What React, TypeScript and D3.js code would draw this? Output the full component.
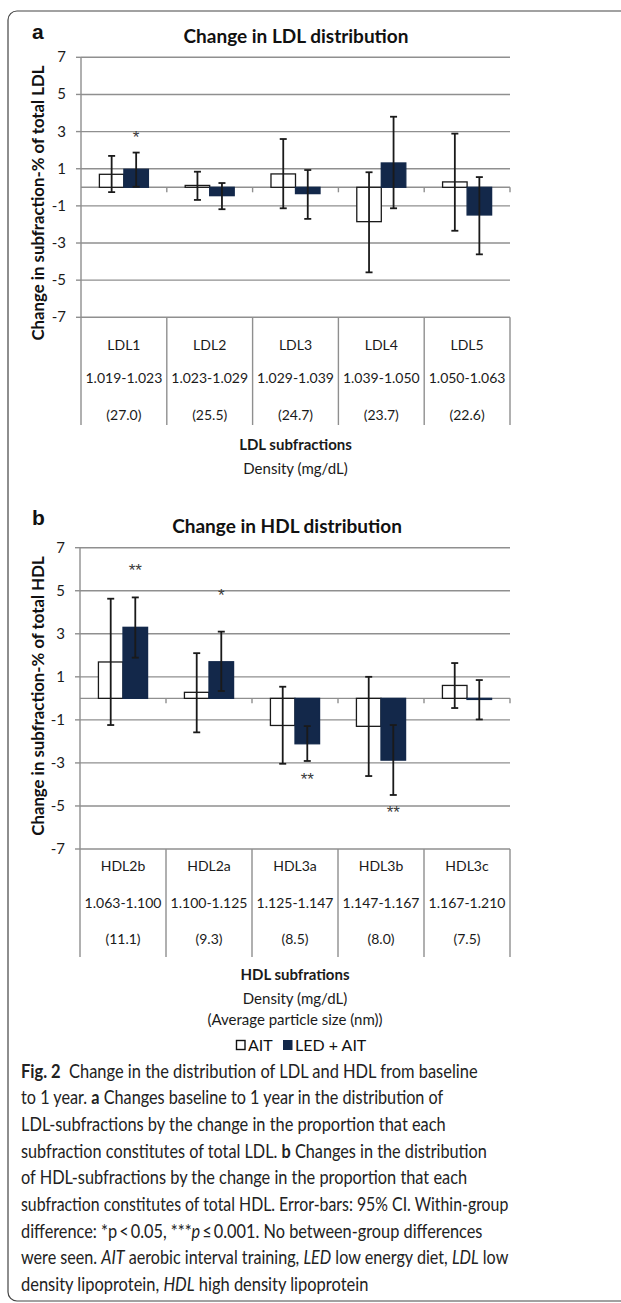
import React, { useEffect, useRef } from 'react';
import * as d3 from 'd3';

// ---- data ----
const groups = ['AIT', 'LED + AIT'];
const yTicks = [7, 5, 3, 1, -1, -3, -5, -7];

const ldlCategories = ['LDL1', 'LDL2', 'LDL3', 'LDL4', 'LDL5'];
const ldlDensity = ['1.019-1.023', '1.023-1.029', '1.029-1.039', '1.039-1.050', '1.050-1.063'];
const ldlSize = ['(27.0)', '(25.5)', '(24.7)', '(23.7)', '(22.6)'];
const ldlAit = [0.7, 0.1, 0.72, -1.85, 0.29];
const ldlAitLow = [-0.26, -0.68, -1.13, -4.58, -2.34];
const ldlAitHigh = [1.69, 0.84, 2.6, 0.81, 2.89];
const ldlLed = [0.97, -0.45, -0.34, 1.31, -1.49];
const ldlLedLow = [0.03, -1.18, -1.7, -1.13, -3.61];
const ldlLedHigh = [1.87, 0.23, 0.93, 3.8, 0.55];
const ldlStars = [{ cat: 'LDL1', group: 'LED + AIT', text: '*', at: 2.82 }];

const hdlCategories = ['HDL2b', 'HDL2a', 'HDL3a', 'HDL3b', 'HDL3c'];
const hdlDensity = ['1.063-1.100', '1.100-1.125', '1.125-1.147', '1.147-1.167', '1.167-1.210'];
const hdlSize = ['(11.1)', '(9.3)', '(8.5)', '(8.0)', '(7.5)'];
const hdlAit = [1.69, 0.28, -1.26, -1.3, 0.6];
const hdlAitLow = [-1.24, -1.58, -3.04, -3.61, -0.45];
const hdlAitHigh = [4.63, 2.1, 0.54, 1.0, 1.64];
const hdlLed = [3.3, 1.7, -2.11, -2.87, -0.05];
const hdlLedLow = [1.89, 0.34, -2.91, -4.49, -0.98];
const hdlLedHigh = [4.69, 3.1, -1.29, -1.24, 0.85];
const hdlStars = [
  { cat: 'HDL2b', group: 'LED + AIT', text: '**', at: 6.1 },
  { cat: 'HDL2a', group: 'LED + AIT', text: '*', at: 4.9 },
  { cat: 'HDL3a', group: 'LED + AIT', text: '**', at: -3.64 },
  { cat: 'HDL3b', group: 'LED + AIT', text: '**', at: -5.16 },
];

const captionLines = [
  [['b', 'Fig. 2'], ['n', '  Change in the distribution of LDL and HDL from baseline']],
  [['n', 'to 1 year. '], ['b', 'a'], ['n', ' Changes baseline to 1 year in the distribution of']],
  [['n', 'LDL-subfractions by the change in the proportion that each']],
  [['n', 'subfraction constitutes of total LDL. '], ['b', 'b'], ['n', ' Changes in the distribution']],
  [['n', 'of HDL-subfractions by the change in the proportion that each']],
  [['n', 'subfraction constitutes of total HDL. Error-bars: 95% CI. Within-group']],
  [['n', 'difference: *p\u2009<\u20090.05, ***'], ['i', 'p'], ['n', '\u2009\u2264\u20090.001. No between-group differences']],
  [['n', 'were seen. '], ['i', 'AIT'], ['n', ' aerobic interval training, '], ['i', 'LED'], ['n', ' low energy diet, '], ['i', 'LDL'], ['n', ' low']],
  [['n', 'density lipoprotein, '], ['i', 'HDL'], ['n', ' high density lipoprotein']],
];
const captionWidths = [456.6, 422.6, 425, 466, 446.6, 487.6, 461.6, 487.6, 347.6];

const FONT = 'Lato, sans-serif';
const CAP_FONT = 'Lato, sans-serif';
const GRID = '#8f8f8f';
const DARK = '#13284a';
const INK = '#1a1a1a';

function drawPanel(svg, p) {
  const g = svg.append('g');
  const y = d3.scaleLinear().domain([-7, 7]).range([p.bottom, p.top]);
  const x0 = d3.scaleBand().domain(p.categories).range([p.left, p.right]);
  const x1 = d3.scaleBand().domain(groups).range([0, x0.bandwidth()]).paddingOuter(0.75);

  // gridlines
  g.selectAll('line.grid').data(yTicks).join('line')
    .attr('x1', p.left).attr('x2', p.right)
    .attr('y1', (d) => y(d)).attr('y2', (d) => y(d))
    .attr('stroke', GRID).attr('stroke-width', 1.4);
  // y ticks + labels
  g.selectAll('line.ytick').data(yTicks).join('line')
    .attr('x1', p.left - 5).attr('x2', p.left)
    .attr('y1', (d) => y(d)).attr('y2', (d) => y(d))
    .attr('stroke', GRID).attr('stroke-width', 1.4);
  g.selectAll('text.ylab').data(yTicks).join('text')
    .attr('x', p.left - 15).attr('y', (d) => y(d) + 5)
    .attr('text-anchor', 'end')
    .style('font', `15px ${FONT}`).attr('fill', INK)
    .text((d) => d);

  // zero line and its ticks
  g.append('line').attr('x1', p.left).attr('x2', p.right)
    .attr('y1', y(0)).attr('y2', y(0)).attr('stroke', GRID).attr('stroke-width', 1.4);
  const inner = p.categories.slice(1).map((c) => x0(c)).concat([p.right]);
  g.selectAll('line.xtick').data(inner).join('line')
    .attr('x1', (d) => d).attr('x2', (d) => d)
    .attr('y1', y(0)).attr('y2', y(0) + 5)
    .attr('stroke', GRID).attr('stroke-width', 1.4);

  // axis and table verticals
  g.append('line').attr('x1', p.left).attr('x2', p.left)
    .attr('y1', p.top).attr('y2', p.tableBottom)
    .attr('stroke', GRID).attr('stroke-width', 1.4);
  g.selectAll('line.tv').data(inner).join('line')
    .attr('x1', (d) => d).attr('x2', (d) => d)
    .attr('y1', p.bottom).attr('y2', p.tableBottom)
    .attr('stroke', GRID).attr('stroke-width', 1.4);

  // bars
  const rows = p.categories.flatMap((c, i) => [
    { c, grp: 'AIT', v: p.ait[i], lo: p.aitLow[i], hi: p.aitHigh[i] },
    { c, grp: 'LED + AIT', v: p.led[i], lo: p.ledLow[i], hi: p.ledHigh[i] },
  ]);
  const cx = (d) => x0(d.c) + x1(d.grp) + x1.bandwidth() / 2;
  g.selectAll('rect.bar').data(rows).join('rect')
    .attr('x', (d) => x0(d.c) + x1(d.grp))
    .attr('width', x1.bandwidth())
    .attr('y', (d) => Math.min(y(d.v), y(0)))
    .attr('height', (d) => Math.max(1, Math.abs(y(d.v) - y(0))))
    .attr('fill', (d) => (d.grp === 'AIT' ? '#ffffff' : DARK))
    .attr('stroke', (d) => (d.grp === 'AIT' ? INK : DARK))
    .attr('stroke-width', 1.3);

  // error bars
  const eb = g.selectAll('g.err').data(rows).join('g').attr('stroke', INK).attr('stroke-width', 1.8);
  eb.append('line').attr('x1', cx).attr('x2', cx).attr('y1', (d) => y(d.lo)).attr('y2', (d) => y(d.hi));
  eb.append('line').attr('x1', (d) => cx(d) - 3.5).attr('x2', (d) => cx(d) + 3.5)
    .attr('y1', (d) => y(d.lo)).attr('y2', (d) => y(d.lo));
  eb.append('line').attr('x1', (d) => cx(d) - 3.5).attr('x2', (d) => cx(d) + 3.5)
    .attr('y1', (d) => y(d.hi)).attr('y2', (d) => y(d.hi));

  // significance stars
  g.selectAll('text.star').data(p.stars).join('text')
    .attr('x', (d) => x0(d.cat) + x1(d.group) + x1.bandwidth() / 2)
    .attr('y', (d) => y(d.at) + 8.5)
    .attr('text-anchor', 'middle')
    .style('font', '17px "Liberation Sans", Arial, sans-serif').attr('fill', '#3a3a3a')
    .text((d) => d.text);

  // table texts
  const cc = (c) => x0(c) + x0.bandwidth() / 2;
  [p.categories, p.density, p.size].forEach((arr, r) => {
    g.selectAll(`text.row${r}`).data(arr).join('text')
      .attr('x', (d, i) => cc(p.categories[i]))
      .attr('y', p.rowY[r])
      .attr('text-anchor', 'middle')
      .style('font', `14px ${FONT}`).attr('fill', INK)
      .text((d) => d);
  });

  // titles
  g.append('text').attr('x', 32).attr('y', p.letterY)
    .style('font', 'bold 21px "Liberation Sans", Arial, sans-serif').attr('fill', '#111')
    .text(p.letter);
  g.append('text').attr('x', p.titleX).attr('y', p.titleY).attr('text-anchor', 'middle')
    .style('font', `bold 19px ${FONT}`).attr('fill', '#111')
    .text(p.title);
  g.append('text')
    .attr('transform', `translate(44, ${p.yTitleY}) rotate(-90)`)
    .attr('text-anchor', 'middle')
    .style('font', `bold 16.8px ${FONT}`).attr('fill', '#111')
    .text(p.yTitle);
  p.xTitle.forEach((t, i) => {
    g.append('text').attr('x', (p.left + p.right) / 2).attr('y', p.xTitleY[i])
      .attr('text-anchor', 'middle')
      .style('font', `${i === 0 ? 'bold ' : ''}15px ${FONT}`).attr('fill', INK)
      .text(t);
  });
}

function App() {
  const ref = useRef(null);

  useEffect(() => {
    const svg = d3.select(ref.current);
    svg.selectAll('*').remove();

    // outer frame
    svg.append('rect').attr('x', 8).attr('y', 11).attr('width', 700).attr('height', 1290)
      .attr('rx', 9).attr('fill', 'none').attr('stroke', '#444').attr('stroke-width', 1.2);

    drawPanel(svg, {
      categories: ldlCategories, density: ldlDensity, size: ldlSize,
      ait: ldlAit, aitLow: ldlAitLow, aitHigh: ldlAitHigh,
      led: ldlLed, ledLow: ldlLedLow, ledHigh: ldlLedHigh, stars: ldlStars,
      top: 57.3, bottom: 317.3, left: 81, right: 510, tableBottom: 425,
      rowY: [350, 383, 420],
      letter: 'a', letterY: 39, title: 'Change in LDL distribution', titleX: 296, titleY: 43,
      yTitle: 'Change in subfraction-% of total LDL', yTitleY: 203,
      xTitle: ['LDL subfractions', 'Density (mg/dL)'], xTitleY: [450, 474],
    });
    drawPanel(svg, {
      categories: hdlCategories, density: hdlDensity, size: hdlSize,
      ait: hdlAit, aitLow: hdlAitLow, aitHigh: hdlAitHigh,
      led: hdlLed, ledLow: hdlLedLow, ledHigh: hdlLedHigh, stars: hdlStars,
      top: 547.7, bottom: 849, left: 80, right: 510, tableBottom: 957,
      rowY: [871, 908, 944],
      letter: 'b', letterY: 525, title: 'Change in HDL distribution', titleX: 287, titleY: 533,
      yTitle: 'Change in subfraction-% of total HDL', yTitleY: 696,
      xTitle: ['HDL subfrations', 'Density (mg/dL)', '(Average particle size (nm))'], xTitleY: [980, 1004, 1025],
    });

    // legend
    const lg = svg.append('g');
    lg.append('rect').attr('x', 236.5).attr('y', 1040.5).attr('width', 8.5).attr('height', 9)
      .attr('fill', '#fff').attr('stroke', '#111').attr('stroke-width', 1.4);
    lg.append('text').attr('x', 248).attr('y', 1051).style('font', `16px ${CAP_FONT}`).attr('fill', '#111').text(groups[0]);
    lg.append('rect').attr('x', 283).attr('y', 1040).attr('width', 9.5).attr('height', 10).attr('fill', DARK);
    lg.append('text').attr('x', 295).attr('y', 1051).style('font', `16px ${CAP_FONT}`).attr('fill', '#111').text(groups[1]);

    // caption, each line squeezed to the measured width
    captionLines.forEach((parts, k) => {
      const t = svg.append('text').attr('x', 0).attr('y', 0)
        .style('font', `18.5px ${CAP_FONT}`).attr('fill', '#222')
        .attr('xml:space', 'preserve').style('white-space', 'pre');
      parts.forEach(([s, txt]) => {
        t.append('tspan')
          .style('font-weight', s === 'b' ? 'bold' : 'normal')
          .style('font-style', s === 'i' ? 'italic' : 'normal')
          .text(txt);
      });
      const w = t.node().getComputedTextLength();
      const sx = captionWidths[k] / w;
      t.attr('transform', `translate(21, ${1077.7 + 26.65 * k}) scale(${sx}, 1)`);
    });
  }, []);

  return (
    <svg ref={ref} width={621} height={1303}
      style={{ position: 'absolute', left: 0, top: 0, background: '#fff' }} />
  );
}

export default App;
